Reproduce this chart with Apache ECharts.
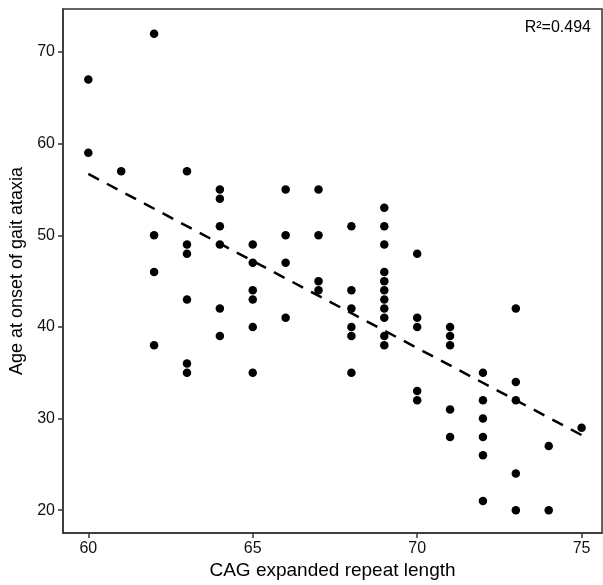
<!DOCTYPE html>
<html>
<head>
<meta charset="utf-8">
<script src="https://cdn.jsdelivr.net/npm/echarts@6/dist/echarts.min.js"></script>
<style>
html,body{margin:0;padding:0;background:#fff;}
#chart{width:603px;height:585px;}
</style>
</head>
<body>
<div id="chart"></div>
<script>
// CAG repeat length and age at onset, one list per repeat length
var cagLengths = [60, 61, 62, 63, 64, 65, 66, 67, 68, 69, 70, 71, 72, 73, 74, 75];
var onsetAges = [
  [67, 59],
  [57],
  [72, 50, 46, 38],
  [57, 49, 48, 43, 36, 35],
  [55, 54, 51, 49, 42, 39],
  [49, 47, 44, 43, 40, 35],
  [55, 50, 47, 41],
  [55, 50, 45, 44],
  [51, 44, 42, 40, 39, 35],
  [53, 51, 49, 46, 45, 44, 43, 42, 41, 39, 38],
  [48, 41, 40, 33, 32],
  [40, 39, 38, 31, 28],
  [35, 32, 30, 28, 26, 21],
  [42, 34, 32, 24, 20],
  [27, 20],
  [29]
];
// fitted line ends
var fitX = [60, 75];
var fitY = [56.7, 28.2];
var xTicks = [60, 65, 70, 75];
var yTicks = [20, 30, 40, 50, 60, 70];
var r2Text = 'R²=0.494';

var points = [];
for (var i = 0; i < cagLengths.length; i++) {
  for (var j = 0; j < onsetAges[i].length; j++) {
    points.push([cagLengths[i], onsetAges[i][j]]);
  }
}
var fitLine = [];
for (var k = 0; k < fitX.length; k++) fitLine.push([fitX[k], fitY[k]]);

var chart = echarts.init(document.getElementById('chart'));
var font = 'Liberation Sans, Arial, sans-serif';

chart.setOption({
  backgroundColor: '#fff',
  animation: false,
  grid: {
    left: 63, right: 1, top: 9, bottom: 49,
    show: true, borderColor: '#333', borderWidth: 1.5, backgroundColor: 'transparent'
  },
  xAxis: {
    type: 'value', min: 59.23, max: 75.62,
    name: 'CAG expanded repeat length', nameLocation: 'middle', nameGap: 27,
    nameTextStyle: {fontFamily: font, fontSize: 19, color: '#000'},
    axisLine: {show: true, onZero: false, lineStyle: {color: '#333', width: 1.5}},
    axisTick: {show: true, length: 5, lineStyle: {color: '#333', width: 1.5}, customValues: xTicks},
    axisLabel: {fontFamily: font, fontSize: 16, color: '#111', margin: 7, customValues: xTicks},
    splitLine: {show: false}
  },
  yAxis: {
    type: 'value', min: 17.5, max: 74.7,
    name: 'Age at onset of gait ataxia', nameLocation: 'middle', nameGap: 35,
    nameTextStyle: {fontFamily: font, fontSize: 18, color: '#000'},
    axisLine: {show: true, onZero: false, lineStyle: {color: '#333', width: 1.5}},
    axisTick: {show: true, length: 5, lineStyle: {color: '#333', width: 1.5}, customValues: yTicks},
    axisLabel: {fontFamily: font, fontSize: 16, color: '#111', margin: 8, customValues: yTicks},
    splitLine: {show: false}
  },
  graphic: [{
    type: 'text', right: 12, top: 20,
    style: {text: r2Text, fontFamily: font, fontSize: 16, fill: '#000'}
  }],
  series: [
    {
      type: 'scatter', data: points, symbolSize: 8.5,
      itemStyle: {color: '#000', opacity: 1}, z: 3
    },
    {
      type: 'line', data: fitLine, symbol: 'none',
      lineStyle: {color: '#000', width: 2.5, type: [12, 9]}, z: 2
    }
  ]
});
</script>
</body>
</html>
